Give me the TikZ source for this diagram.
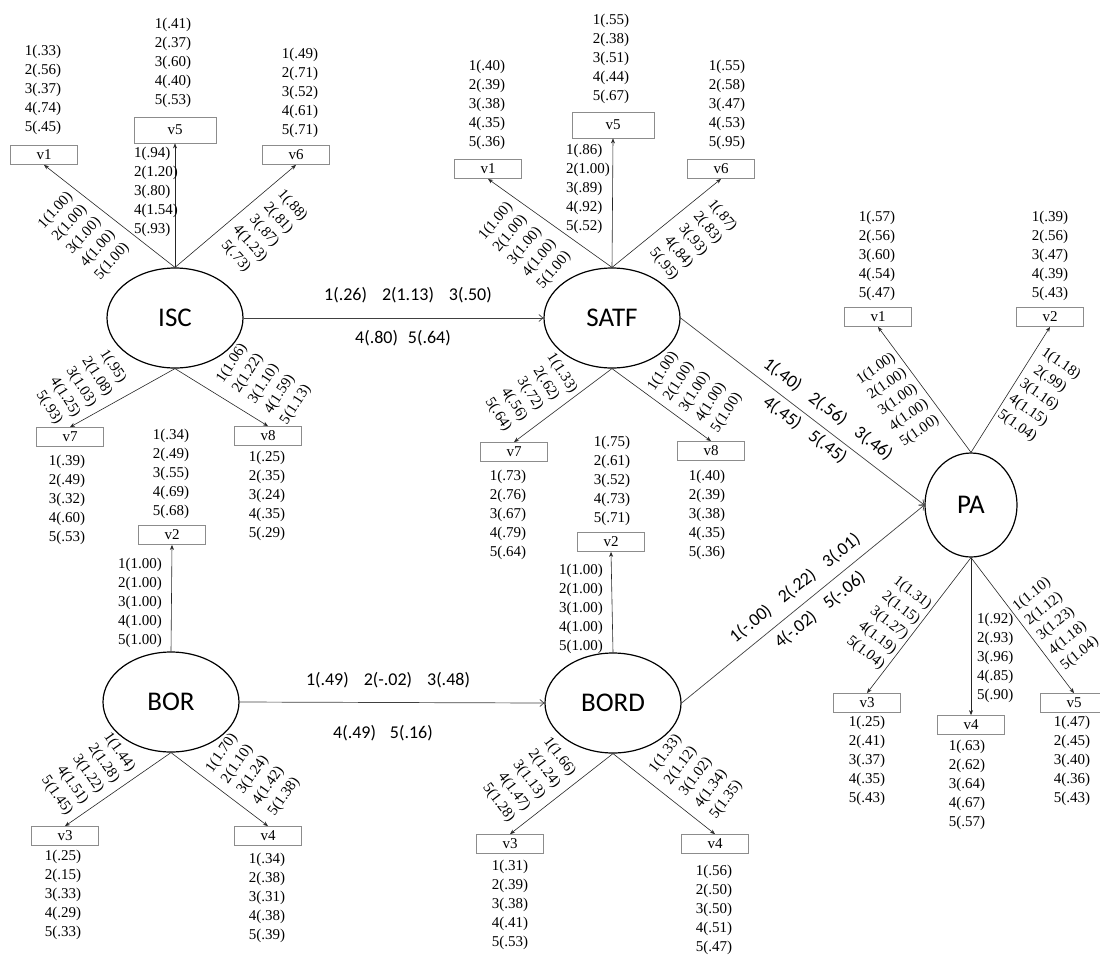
\documentclass[tikz,border=0pt]{standalone}
\usepackage{fontspec}
\newfontfamily\numf{Liberation Serif}
\newfontfamily\labf{Carlito}
\usetikzlibrary{arrows.meta,shapes.geometric}
\begin{document}
\begin{tikzpicture}[x=1pt,y=-1pt,
 lat/.style={ellipse,draw,line width=1.2pt,minimum width=136pt,minimum height=100pt,inner sep=0pt,font=\labf\fontsize{27}{30}\selectfont},
 obs/.style={draw=black!45,line width=0.8pt,minimum width=67pt,minimum height=19pt,inner sep=0pt,font=\numf\fontsize{15}{19}\selectfont},
 obsw/.style={obs,minimum width=82pt,minimum height=26pt},
 num/.style={inner sep=0pt,align=center,font=\numf\fontsize{15}{19}\selectfont},
 numl/.style={num,align=left,anchor=west},
 load/.style={draw=black!85,line width=0.6pt,-{Stealth[length=5pt,width=4pt]}},
 reg/.style={draw=black!75,line width=0.7pt,-{Straight Barb[length=4pt,width=7pt]}},
 plab/.style={inner sep=0pt,font=\labf\fontsize{18}{20}\selectfont}]
\useasboundingbox (0,0) rectangle (1100,956);

% ---------- ISC ----------
\node[lat] (ISC) at (175,318) {ISC};
\node[obs] (iv1) at (44,155) {v1};
\node[obsw] (iv5) at (175,130) {v5};
\node[obs] (iv6) at (296,155) {v6};
\node[obs] (iv7) at (70,437) {v7};
\node[obs] (iv8) at (268,436) {v8};
\draw[load] (ISC.north) -- (iv1.south);
\draw[load] (ISC.north) -- (iv5.south);
\draw[load] (ISC.north) -- (iv6.south);
\draw[load] (ISC.south) -- (iv7.north);
\draw[load] (ISC.south) -- (iv8.north);
\node[num] (iv1e) at (43,90) {1(.33)\\2(.56)\\3(.37)\\4(.74)\\5(.45)};
\node[num] (iv5e) at (173,63) {1(.41)\\2(.37)\\3(.60)\\4(.40)\\5(.53)};
\node[num] (iv6e) at (300,93) {1(.49)\\2(.71)\\3(.52)\\4(.61)\\5(.71)};
\node[numl] (iv5l) at (134,192) {1(.94)\\2(1.20)\\3(.80)\\4(1.54)\\5(.93)};
\node[num,rotate=48] (iv1l) at (84,236) {1(1.00)\\2(1.00)\\3(1.00)\\4(1.00)\\5(1.00)};
\node[num,rotate=-48] (iv6l) at (264,231) {1(.88)\\2(.81)\\3(.87)\\4(1.23)\\5(.73)};
\node[num,rotate=-57] (iv7l) at (81,387) {1(.95)\\2(1.08)\\3(1.03)\\4(1.25)\\5(.93)};
\node[num,rotate=57] (iv8l) at (264,384) {1(1.06)\\2(1.22)\\3(1.10)\\4(1.59)\\5(1.13)};
\node[num] (iv7e) at (67,500) {1(.39)\\2(.49)\\3(.32)\\4(.60)\\5(.53)};
\node[num] (iv8e) at (267,496) {1(.25)\\2(.35)\\3(.24)\\4(.35)\\5(.29)};

% ---------- BOR ----------
\node[lat] (BOR) at (171,702) {BOR};
\node[obs] (bv2) at (172,535) {v2};
\node[obs] (bv3) at (65,836) {v3};
\node[obs] (bv4) at (268,836) {v4};
\draw[load] (BOR.north) -- (bv2.south);
\draw[load] (BOR.south) -- (bv3.north);
\draw[load] (BOR.south) -- (bv4.north);
\node[num] (bv2e) at (171,474) {1(.34)\\2(.49)\\3(.55)\\4(.69)\\5(.68)};
\node[numl] (bv2l) at (118,603) {1(1.00)\\2(1.00)\\3(1.00)\\4(1.00)\\5(1.00)};
\node[num,rotate=-55] (bv3l) at (88,774) {1(1.44)\\2(1.28)\\3(1.22)\\4(1.51)\\5(1.45)};
\node[num,rotate=55] (bv4l) at (253,775) {1(1.70)\\2(1.10)\\3(1.24)\\4(1.42)\\5(1.38)};
\node[num] (bv3e) at (63,895) {1(.25)\\2(.15)\\3(.33)\\4(.29)\\5(.33)};
\node[num] (bv4e) at (267,898) {1(.34)\\2(.38)\\3(.31)\\4(.38)\\5(.39)};

% ---------- SATF ----------
\node[lat] (SATF) at (612,318) {SATF};
\node[obs] (sv1) at (488,169) {v1};
\node[obsw] (sv5) at (613,125) {v5};
\node[obs] (sv6) at (721,169) {v6};
\node[obs] (sv7) at (514,452) {v7};
\node[obs] (sv8) at (711,451) {v8};
\draw[load] (SATF.north) -- (sv1.south);
\draw[load] (SATF.north) -- (sv5.south);
\draw[load] (SATF.north) -- (sv6.south);
\draw[load] (SATF.south) -- (sv7.north);
\draw[load] (SATF.south) -- (sv8.north);
\node[num] (sv1e) at (487,105) {1(.40)\\2(.39)\\3(.38)\\4(.35)\\5(.36)};
\node[num] (sv5e) at (611,59) {1(.55)\\2(.38)\\3(.51)\\4(.44)\\5(.67)};
\node[num] (sv6e) at (727,105) {1(.55)\\2(.58)\\3(.47)\\4(.53)\\5(.95)};
\node[numl] (sv5l) at (566,189) {1(.86)\\2(1.00)\\3(.89)\\4(.92)\\5(.52)};
\node[num,rotate=50] (sv1l) at (525,246) {1(1.00)\\2(1.00)\\3(1.00)\\4(1.00)\\5(1.00)};
\node[num,rotate=-50] (sv6l) at (693,240) {1(.87)\\2(.83)\\3(.93)\\4(.84)\\5(.95)};
\node[num,rotate=-57] (sv7l) at (530,394) {1(1.33)\\2(.62)\\3(.72)\\4(.56)\\5(.64)};
\node[num,rotate=57] (sv8l) at (695,392) {1(1.00)\\2(1.00)\\3(1.00)\\4(1.00)\\5(1.00)};
\node[num] (sv7e) at (508,515) {1(.73)\\2(.76)\\3(.67)\\4(.79)\\5(.64)};
\node[num] (sv8e) at (707,515) {1(.40)\\2(.39)\\3(.38)\\4(.35)\\5(.36)};

% ---------- BORD ----------
\node[lat] (BORD) at (613,703) {BORD};
\node[obs] (dv2) at (611,542) {v2};
\node[obs] (dv3) at (510,844) {v3};
\node[obs] (dv4) at (715,844) {v4};
\draw[load] (BORD.north) -- (dv2.south);
\draw[load] (BORD.south) -- (dv3.north);
\draw[load] (BORD.south) -- (dv4.north);
\node[num] (dv2e) at (612,481) {1(.75)\\2(.61)\\3(.52)\\4(.73)\\5(.71)};
\node[numl] (dv2l) at (559,609) {1(1.00)\\2(1.00)\\3(1.00)\\4(1.00)\\5(1.00)};
\node[num,rotate=-53] (dv3l) at (529,780) {1(1.66)\\2(1.24)\\3(1.13)\\4(1.47)\\5(1.28)};
\node[num,rotate=53] (dv4l) at (696,777) {1(1.33)\\2(1.12)\\3(1.02)\\4(1.34)\\5(1.35)};
\node[num] (dv3e) at (510,905) {1(.31)\\2(.39)\\3(.38)\\4(.41)\\5(.53)};
\node[num] (dv4e) at (714,910) {1(.56)\\2(.50)\\3(.50)\\4(.51)\\5(.47)};

% ---------- PA ----------
\node[lat,minimum width=92pt,minimum height=104pt] (PA) at (971,505) {PA};
\node[obs] (pv1) at (878,317) {v1};
\node[obs] (pv2) at (1050,317) {v2};
\node[obs] (pv3) at (867,703) {v3};
\node[obs] (pv4) at (971,725) {v4};
\node[obs] (pv5) at (1074,703) {v5};
\draw[load] (PA.north) -- (pv1.south);
\draw[load] (PA.north) -- (pv2.south);
\draw[load] (PA.south) -- (pv3.north);
\draw[load] (PA.south) -- (pv4.north);
\draw[load] (PA.south) -- (pv5.north);
\node[num] (pv1e) at (877,256) {1(.57)\\2(.56)\\3(.60)\\4(.54)\\5(.47)};
\node[num] (pv2e) at (1050,256) {1(.39)\\2(.56)\\3(.47)\\4(.39)\\5(.43)};
\node[num,rotate=35] (pv1l) at (898,400) {1(1.00)\\2(1.00)\\3(1.00)\\4(1.00)\\5(1.00)};
\node[num,rotate=-35] (pv2l) at (1039,395) {1(1.18)\\2(.99)\\3(1.16)\\4(1.15)\\5(1.04)};
\node[num,rotate=-38] (pv3l) at (889,623) {1(1.31)\\2(1.15)\\3(1.27)\\4(1.19)\\5(1.04)};
\node[num,rotate=39] (pv5l) at (1056,624) {1(1.10)\\2(1.12)\\3(1.23)\\4(1.18)\\5(1.04)};
\node[numl] (pv4l) at (977,658) {1(.92)\\2(.93)\\3(.96)\\4(.85)\\5(.90)};
\node[num] (pv3e) at (867,761) {1(.25)\\2(.41)\\3(.37)\\4(.35)\\5(.43)};
\node[num] (pv4e) at (967,785) {1(.63)\\2(.62)\\3(.64)\\4(.67)\\5(.57)};
\node[num] (pv5e) at (1072,761) {1(.47)\\2(.45)\\3(.40)\\4(.36)\\5(.43)};

% ---------- structural paths ----------
\draw[reg] (ISC.east) -- (SATF.west);
\draw[reg] (BOR.east) -- (BORD.west);
\draw[reg] (SATF.east) -- (PA.west);
\draw[reg] (BORD.east) -- (PA.west);
\node[plab] (p1a) at (408,295) {1(.26)\hspace{15pt}2(1.13)\hspace{15pt}3(.50)};
\node[plab] (p1b) at (403,338) {4(.80)\hspace{10pt}5(.64)};
\node[plab] (p2a) at (388,680) {1(.49)\hspace{15pt}2(-.02)\hspace{15pt}3(.48)};
\node[plab] (p2b) at (383,733) {4(.49)\hspace{14pt}5(.16)};
\node[plab,rotate=-37] (p3a) at (828,409) {1(.40)\hspace{14pt}2(.56)\hspace{14pt}3(.46)};
\node[plab,rotate=-37] (p3b) at (805,430) {4(.45)\hspace{14pt}5(.45)};
\node[plab,rotate=39] (p4a) at (795,588) {1(-.00)\hspace{14pt}2(.22)\hspace{14pt}3(.01)};
\node[plab,rotate=39] (p4b) at (820,610) {4(-.02)\hspace{14pt}5(-.06)};
\end{tikzpicture}
\end{document}
